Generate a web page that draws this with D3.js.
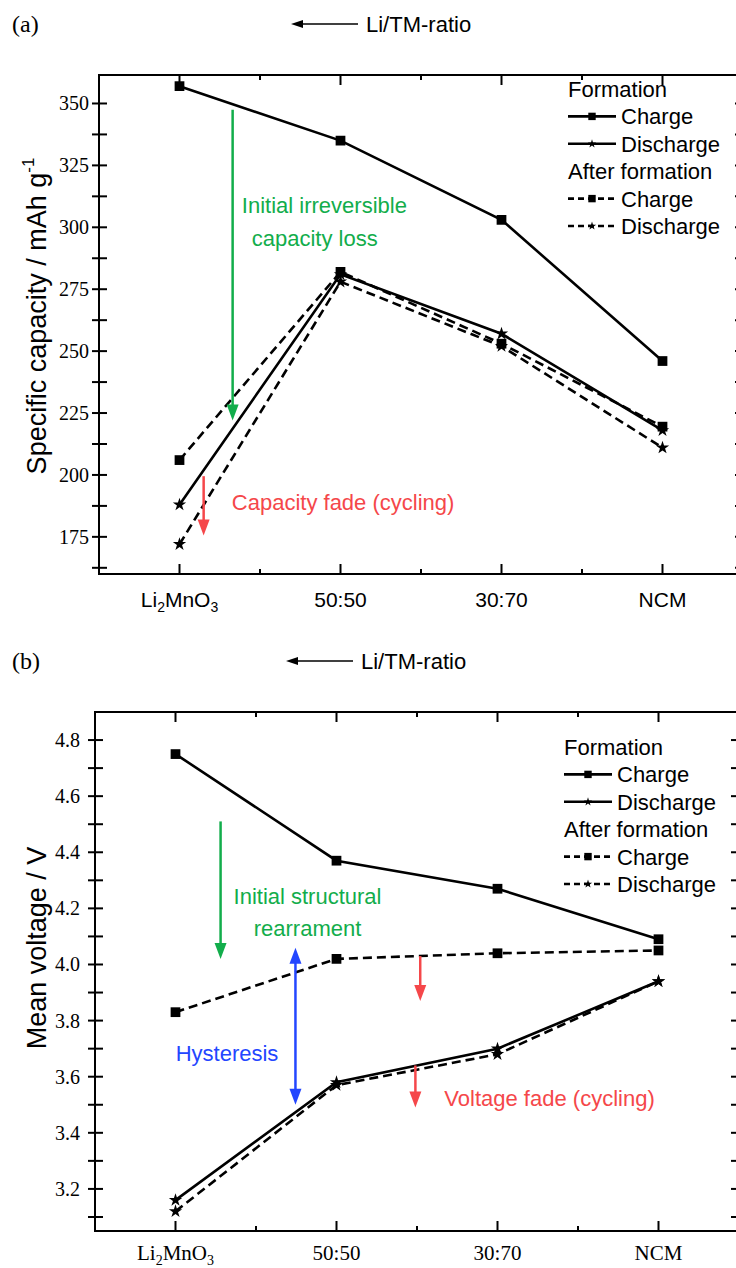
<!DOCTYPE html>
<html>
<head>
<meta charset="utf-8">
<script src="https://cdn.jsdelivr.net/npm/d3@7/dist/d3.min.js"></script>
<style>
body { margin: 0; background: #fff; }
svg { display: block; }
</style>
</head>
<body>
<div id="chart"></div>
<script>
// data
var categories = ["Li2MnO3", "50:50", "30:70", "NCM"];

var capFormCharge = [357, 335, 303, 246];
var capFormDischarge = [188, 281, 257, 218];
var capAfterCharge = [206, 282, 253, 219.5];
var capAfterDischarge = [172, 278, 252, 211];

var voltFormCharge = [4.75, 4.37, 4.27, 4.09];
var voltFormDischarge = [3.16, 3.58, 3.70, 3.94];
var voltAfterCharge = [3.83, 4.02, 4.04, 4.05];
var voltAfterDischarge = [3.12, 3.57, 3.68, 3.94];

var capTicks = [175, 200, 225, 250, 275, 300, 325, 350];
var voltTicks = [3.2, 3.4, 3.6, 3.8, 4.0, 4.2, 4.4, 4.6, 4.8];
var legendLabels = ["Formation", "Charge", "Discharge", "After formation", "Charge", "Discharge"];

var sans = "'Liberation Sans', Arial, sans-serif",
	serif = "'Liberation Serif', 'Times New Roman', serif",
	green = "#12ad4b",
	red = "#f5474a",
	blue = "#2346ff";

var svg = d3.select("#chart")
	.append("svg")
	.attr("width", 736)
	.attr("height", 1268);

function drawArrow(g, x, y1, y2, color, both) {
	var head = 16, hw = 6;
	g.append("line")
		.attr("x1", x).attr("x2", x)
		.attr("y1", both ? y1 + head - 2 : y1).attr("y2", y2 - head + 2)
		.attr("stroke", color).attr("stroke-width", 2.5);
	g.append("path")
		.attr("d", "M" + (x - hw) + "," + (y2 - head) + "L" + (x + hw) + "," + (y2 - head) + "L" + x + "," + y2 + "Z")
		.attr("fill", color);
	if (both) {
		g.append("path")
			.attr("d", "M" + (x - hw) + "," + (y1 + head) + "L" + (x + hw) + "," + (y1 + head) + "L" + x + "," + y1 + "Z")
			.attr("fill", color);
	}
}

function catLabel(sel, d) {
	if (d === "Li2MnO3") {
		sel.text("Li");
		sel.append("tspan").attr("font-size", "14px").attr("dy", 5).text("2");
		sel.append("tspan").attr("dy", -5).text("MnO");
		sel.append("tspan").attr("font-size", "14px").attr("dy", 5).text("3");
	} else {
		sel.text(d);
	}
}

function drawPanel(p) {
	var g = svg.append("g");

	var x = d3.scaleLinear().domain([-0.5, 3.5]).range([p.left, p.left + 644]);
	var y = d3.scaleLinear().domain(p.yDomain).range([p.bottom, p.top]);
	var right = x(3.5);

	// frame
	g.append("rect")
		.attr("x", p.left).attr("y", p.top)
		.attr("width", right - p.left).attr("height", p.bottom - p.top)
		.attr("fill", "none").attr("stroke", "#000").attr("stroke-width", 2);

	// y ticks, major + minor
	var minor = d3.range(p.yDomain[0], p.yDomain[1], p.minorStep)
		.map(function(v) { return Math.ceil(v / p.minorStep) * p.minorStep; })
		.filter(function(v) { return v > p.yDomain[0] && v < p.yDomain[1]; });
	minor = Array.from(new Set(minor.map(function(v) { return +v.toFixed(3); })));
	minor.forEach(function(v) {
		g.append("line")
			.attr("x1", p.left - 7).attr("x2", p.left + 8)
			.attr("y1", y(v)).attr("y2", y(v))
			.attr("stroke", "#000").attr("stroke-width", 2);
		g.append("line")
			.attr("x1", right - 8).attr("x2", right)
			.attr("y1", y(v)).attr("y2", y(v))
			.attr("stroke", "#000").attr("stroke-width", 2);
	});

	g.selectAll(".ylab")
		.data(p.yTicks)
		.enter().append("text")
		.attr("x", p.labelX)
		.attr("y", function(d) { return y(d) + 7; })
		.attr("text-anchor", "end")
		.attr("font-family", serif)
		.attr("font-size", "20px")
		.text(p.fmt);

	// x ticks
	[0, 0.5, 1, 1.5, 2, 2.5, 3].forEach(function(i) {
		var len = (i % 1 === 0) ? 10 : 5;
		g.append("line")
			.attr("x1", x(i)).attr("x2", x(i))
			.attr("y1", p.bottom).attr("y2", p.bottom - len)
			.attr("stroke", "#000").attr("stroke-width", 2);
		g.append("line")
			.attr("x1", x(i)).attr("x2", x(i))
			.attr("y1", p.top).attr("y2", p.top + len)
			.attr("stroke", "#000").attr("stroke-width", 2);
	});

	g.selectAll(".xlab")
		.data(categories)
		.enter().append("text")
		.attr("x", function(d, i) { return x(i); })
		.attr("y", p.bottom + p.xLabelDy)
		.attr("text-anchor", "middle")
		.attr("font-family", p.xFont)
		.attr("font-size", "21px")
		.each(function(d) { catLabel(d3.select(this), d); });

	// axis title
	var t = g.append("text")
		.attr("transform", "translate(" + 46 + "," + p.titleY + ") rotate(-90)")
		.attr("text-anchor", "middle")
		.attr("font-family", sans)
		.attr("font-size", "27px")
		.text(p.title);
	if (p.titleSup) {
		t.append("tspan").attr("font-size", "17px").attr("dy", -12).text(p.titleSup);
	}

	// panel tag and ratio arrow
	g.append("text")
		.attr("x", 12).attr("y", p.top - 43)
		.attr("font-family", serif).attr("font-size", "24px")
		.text(p.tag);
	var ay = p.top - 51;
	g.append("line")
		.attr("x1", p.ratioX - 8).attr("x2", p.ratioX - 66)
		.attr("y1", ay).attr("y2", ay)
		.attr("stroke", "#000").attr("stroke-width", 1.3);
	g.append("path")
		.attr("d", "M" + (p.ratioX - 75) + "," + ay + "l12,-4l0,8Z")
		.attr("fill", "#000");
	g.append("text")
		.attr("x", p.ratioX).attr("y", ay + 8)
		.attr("font-family", sans).attr("font-size", "22px")
		.text("Li/TM-ratio");

	// series
	var line = d3.line()
		.x(function(d, i) { return x(i); })
		.y(function(d) { return y(d); });

	p.series.forEach(function(s) {
		g.append("path")
			.datum(s.values)
			.attr("d", line)
			.attr("fill", "none")
			.attr("stroke", "#000")
			.attr("stroke-width", 2.6)
			.attr("stroke-dasharray", s.dashed ? "9,5" : null);
	});
	p.series.forEach(function(s) {
		var sym = d3.symbol()
			.type(s.star ? d3.symbolStar : d3.symbolSquare)
			.size(s.star ? 55 : 95);
		g.selectAll(null)
			.data(s.values)
			.enter().append("path")
			.attr("transform", function(d, i) { return "translate(" + x(i) + "," + y(d) + ")"; })
			.attr("d", sym)
			.attr("fill", "#000");
	});

	// legend
	var lg = g.append("g").attr("transform", "translate(" + p.legendX + "," + p.legendY + ")");
	legendLabels.forEach(function(lab, i) {
		var row = lg.append("g").attr("transform", "translate(0," + (i * 27.4) + ")");
		var isHead = (i === 0 || i === 3);
		row.append("text")
			.attr("x", isHead ? 0 : 53)
			.attr("y", 8)
			.attr("font-family", sans)
			.attr("font-size", "22px")
			.text(lab);
		if (!isHead) {
			var dashed = i > 3, star = (i === 2 || i === 5);
			row.append("line")
				.attr("x1", 0).attr("x2", 48)
				.attr("y1", 0).attr("y2", 0)
				.attr("stroke", "#000").attr("stroke-width", 2.6)
				.attr("stroke-dasharray", dashed ? "6,4" : null);
			row.append("path")
				.attr("transform", "translate(24,0)")
				.attr("d", d3.symbol().type(star ? d3.symbolStar : d3.symbolSquare).size(star ? 22 : 55))
				.attr("fill", "#000");
		}
	});

	// annotations
	p.arrows.forEach(function(a) {
		drawArrow(g, x(a.i), y(a.from), y(a.to), a.color, a.both);
	});
	p.notes.forEach(function(n) {
		g.append("text")
			.attr("x", x(n.i))
			.attr("y", y(n.v) + 8)
			.attr("text-anchor", n.anchor || "middle")
			.attr("font-family", sans)
			.attr("font-size", "22px")
			.attr("fill", n.color)
			.text(n.text);
	});
}

drawPanel({
	tag: "(a)",
	top: 75, bottom: 574, left: 99,
	yDomain: [160, 361.5], yTicks: capTicks, minorStep: 12.5,
	fmt: function(d) { return d; },
	labelX: 89,
	xFont: sans, xLabelDy: 33,
	title: "Specific capacity / mAh g", titleSup: "-1", titleY: 316,
	ratioX: 366,
	legendX: 568, legendY: 89,
	series: [
		{ values: capFormCharge, dashed: false, star: false },
		{ values: capFormDischarge, dashed: false, star: true },
		{ values: capAfterCharge, dashed: true, star: false },
		{ values: capAfterDischarge, dashed: true, star: true }
	],
	arrows: [
		{ i: 0.33, from: 347.5, to: 222, color: green },
		{ i: 0.15, from: 199.5, to: 175.5, color: red }
	],
	notes: [
		{ i: 0.9, v: 309, text: "Initial irreversible", color: green },
		{ i: 0.84, v: 295.5, text: "capacity loss", color: green },
		{ i: 0.325, v: 189, text: "Capacity fade (cycling)", color: red, anchor: "start" }
	]
});

drawPanel({
	tag: "(b)",
	top: 712, bottom: 1231, left: 95,
	yDomain: [3.05, 4.9], yTicks: voltTicks, minorStep: 0.1,
	fmt: function(d) { return d3.format(".1f")(d); },
	labelX: 80,
	xFont: serif, xLabelDy: 29,
	title: "Mean voltage / V", titleSup: null, titleY: 948,
	ratioX: 361,
	legendX: 564, legendY: 747,
	series: [
		{ values: voltFormCharge, dashed: false, star: false },
		{ values: voltFormDischarge, dashed: false, star: true },
		{ values: voltAfterCharge, dashed: true, star: false },
		{ values: voltAfterDischarge, dashed: true, star: true }
	],
	arrows: [
		{ i: 0.28, from: 4.51, to: 4.02, color: green },
		{ i: 1.52, from: 4.03, to: 3.87, color: red },
		{ i: 1.49, from: 3.64, to: 3.49, color: red },
		{ i: 0.745, from: 4.06, to: 3.5, color: blue, both: true }
	],
	notes: [
		{ i: 0.82, v: 4.245, text: "Initial structural", color: green },
		{ i: 0.82, v: 4.13, text: "rearrament", color: green },
		{ i: 0.32, v: 3.685, text: "Hysteresis", color: blue },
		{ i: 1.67, v: 3.525, text: "Voltage fade (cycling)", color: red, anchor: "start" }
	]
});
</script>
</body>
</html>
